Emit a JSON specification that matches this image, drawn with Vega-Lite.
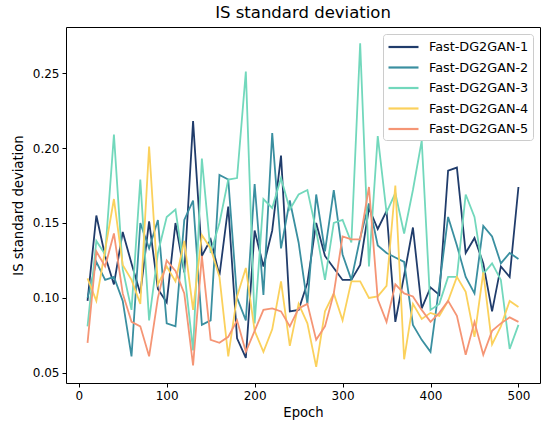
{
  "$schema": "https://vega.github.io/schema/vega-lite/v6.json",
  "width": 474,
  "height": 356,
  "autosize": {"type": "none"},
  "padding": {"left": 66, "top": 27, "right": 10, "bottom": 47},
  "title": {"text": "IS standard deviation", "fontSize": 16.5, "fontWeight": "normal", "font": "DejaVu Sans", "color": "black", "offset": 6},
  "config": {
    "view": {"stroke": "black", "strokeWidth": 1},
    "font": "DejaVu Sans",
    "axis": {"grid": false, "domain": false, "tickColor": "black", "tickSize": 4, "labelFontSize": 12, "labelColor": "black", "titleFontSize": 13.2, "titleFontWeight": "normal", "titleColor": "black", "labelPadding": 3}
  },
  "datasets": {
    "is_std": [
      {"epoch": 10, "model": "Fast-DG2GAN-1", "value": 0.098}, {"epoch": 20, "model": "Fast-DG2GAN-1", "value": 0.155}, {"epoch": 30, "model": "Fast-DG2GAN-1", "value": 0.128}, {"epoch": 40, "model": "Fast-DG2GAN-1", "value": 0.109}, {"epoch": 50, "model": "Fast-DG2GAN-1", "value": 0.144},
      {"epoch": 60, "model": "Fast-DG2GAN-1", "value": 0.123}, {"epoch": 70, "model": "Fast-DG2GAN-1", "value": 0.103}, {"epoch": 80, "model": "Fast-DG2GAN-1", "value": 0.151}, {"epoch": 90, "model": "Fast-DG2GAN-1", "value": 0.106}, {"epoch": 100, "model": "Fast-DG2GAN-1", "value": 0.097},
      {"epoch": 110, "model": "Fast-DG2GAN-1", "value": 0.150}, {"epoch": 120, "model": "Fast-DG2GAN-1", "value": 0.117}, {"epoch": 130, "model": "Fast-DG2GAN-1", "value": 0.218}, {"epoch": 140, "model": "Fast-DG2GAN-1", "value": 0.128}, {"epoch": 150, "model": "Fast-DG2GAN-1", "value": 0.139},
      {"epoch": 160, "model": "Fast-DG2GAN-1", "value": 0.115}, {"epoch": 170, "model": "Fast-DG2GAN-1", "value": 0.161}, {"epoch": 180, "model": "Fast-DG2GAN-1", "value": 0.073}, {"epoch": 190, "model": "Fast-DG2GAN-1", "value": 0.060}, {"epoch": 200, "model": "Fast-DG2GAN-1", "value": 0.145},
      {"epoch": 210, "model": "Fast-DG2GAN-1", "value": 0.121}, {"epoch": 220, "model": "Fast-DG2GAN-1", "value": 0.145}, {"epoch": 230, "model": "Fast-DG2GAN-1", "value": 0.195}, {"epoch": 240, "model": "Fast-DG2GAN-1", "value": 0.091}, {"epoch": 250, "model": "Fast-DG2GAN-1", "value": 0.092},
      {"epoch": 260, "model": "Fast-DG2GAN-1", "value": 0.110}, {"epoch": 270, "model": "Fast-DG2GAN-1", "value": 0.150}, {"epoch": 280, "model": "Fast-DG2GAN-1", "value": 0.128}, {"epoch": 290, "model": "Fast-DG2GAN-1", "value": 0.120}, {"epoch": 300, "model": "Fast-DG2GAN-1", "value": 0.112},
      {"epoch": 310, "model": "Fast-DG2GAN-1", "value": 0.112}, {"epoch": 320, "model": "Fast-DG2GAN-1", "value": 0.122}, {"epoch": 330, "model": "Fast-DG2GAN-1", "value": 0.160}, {"epoch": 340, "model": "Fast-DG2GAN-1", "value": 0.146}, {"epoch": 350, "model": "Fast-DG2GAN-1", "value": 0.158},
      {"epoch": 360, "model": "Fast-DG2GAN-1", "value": 0.084}, {"epoch": 370, "model": "Fast-DG2GAN-1", "value": 0.115}, {"epoch": 380, "model": "Fast-DG2GAN-1", "value": 0.147}, {"epoch": 390, "model": "Fast-DG2GAN-1", "value": 0.093}, {"epoch": 400, "model": "Fast-DG2GAN-1", "value": 0.107},
      {"epoch": 410, "model": "Fast-DG2GAN-1", "value": 0.102}, {"epoch": 420, "model": "Fast-DG2GAN-1", "value": 0.185}, {"epoch": 430, "model": "Fast-DG2GAN-1", "value": 0.187}, {"epoch": 440, "model": "Fast-DG2GAN-1", "value": 0.130}, {"epoch": 450, "model": "Fast-DG2GAN-1", "value": 0.140},
      {"epoch": 460, "model": "Fast-DG2GAN-1", "value": 0.123}, {"epoch": 470, "model": "Fast-DG2GAN-1", "value": 0.091}, {"epoch": 480, "model": "Fast-DG2GAN-1", "value": 0.121}, {"epoch": 490, "model": "Fast-DG2GAN-1", "value": 0.114}, {"epoch": 500, "model": "Fast-DG2GAN-1", "value": 0.174},

      {"epoch": 10, "model": "Fast-DG2GAN-2", "value": 0.100}, {"epoch": 20, "model": "Fast-DG2GAN-2", "value": 0.124}, {"epoch": 30, "model": "Fast-DG2GAN-2", "value": 0.112}, {"epoch": 40, "model": "Fast-DG2GAN-2", "value": 0.114}, {"epoch": 50, "model": "Fast-DG2GAN-2", "value": 0.098},
      {"epoch": 60, "model": "Fast-DG2GAN-2", "value": 0.061}, {"epoch": 70, "model": "Fast-DG2GAN-2", "value": 0.150}, {"epoch": 80, "model": "Fast-DG2GAN-2", "value": 0.133}, {"epoch": 90, "model": "Fast-DG2GAN-2", "value": 0.152}, {"epoch": 100, "model": "Fast-DG2GAN-2", "value": 0.083},
      {"epoch": 110, "model": "Fast-DG2GAN-2", "value": 0.081}, {"epoch": 120, "model": "Fast-DG2GAN-2", "value": 0.152}, {"epoch": 130, "model": "Fast-DG2GAN-2", "value": 0.165}, {"epoch": 140, "model": "Fast-DG2GAN-2", "value": 0.082}, {"epoch": 150, "model": "Fast-DG2GAN-2", "value": 0.085},
      {"epoch": 160, "model": "Fast-DG2GAN-2", "value": 0.182}, {"epoch": 170, "model": "Fast-DG2GAN-2", "value": 0.179}, {"epoch": 180, "model": "Fast-DG2GAN-2", "value": 0.100}, {"epoch": 190, "model": "Fast-DG2GAN-2", "value": 0.085}, {"epoch": 200, "model": "Fast-DG2GAN-2", "value": 0.176},
      {"epoch": 210, "model": "Fast-DG2GAN-2", "value": 0.102}, {"epoch": 220, "model": "Fast-DG2GAN-2", "value": 0.210}, {"epoch": 230, "model": "Fast-DG2GAN-2", "value": 0.133}, {"epoch": 240, "model": "Fast-DG2GAN-2", "value": 0.165}, {"epoch": 250, "model": "Fast-DG2GAN-2", "value": 0.137},
      {"epoch": 260, "model": "Fast-DG2GAN-2", "value": 0.096}, {"epoch": 270, "model": "Fast-DG2GAN-2", "value": 0.169}, {"epoch": 280, "model": "Fast-DG2GAN-2", "value": 0.131}, {"epoch": 290, "model": "Fast-DG2GAN-2", "value": 0.172}, {"epoch": 300, "model": "Fast-DG2GAN-2", "value": 0.129},
      {"epoch": 310, "model": "Fast-DG2GAN-2", "value": 0.112}, {"epoch": 320, "model": "Fast-DG2GAN-2", "value": 0.140}, {"epoch": 330, "model": "Fast-DG2GAN-2", "value": 0.163}, {"epoch": 340, "model": "Fast-DG2GAN-2", "value": 0.135}, {"epoch": 350, "model": "Fast-DG2GAN-2", "value": 0.130},
      {"epoch": 360, "model": "Fast-DG2GAN-2", "value": 0.127}, {"epoch": 370, "model": "Fast-DG2GAN-2", "value": 0.124}, {"epoch": 380, "model": "Fast-DG2GAN-2", "value": 0.082}, {"epoch": 390, "model": "Fast-DG2GAN-2", "value": 0.072}, {"epoch": 400, "model": "Fast-DG2GAN-2", "value": 0.064},
      {"epoch": 410, "model": "Fast-DG2GAN-2", "value": 0.108}, {"epoch": 420, "model": "Fast-DG2GAN-2", "value": 0.154}, {"epoch": 430, "model": "Fast-DG2GAN-2", "value": 0.135}, {"epoch": 440, "model": "Fast-DG2GAN-2", "value": 0.114}, {"epoch": 450, "model": "Fast-DG2GAN-2", "value": 0.103},
      {"epoch": 460, "model": "Fast-DG2GAN-2", "value": 0.148}, {"epoch": 470, "model": "Fast-DG2GAN-2", "value": 0.141}, {"epoch": 480, "model": "Fast-DG2GAN-2", "value": 0.123}, {"epoch": 490, "model": "Fast-DG2GAN-2", "value": 0.130}, {"epoch": 500, "model": "Fast-DG2GAN-2", "value": 0.126},

      {"epoch": 10, "model": "Fast-DG2GAN-3", "value": 0.081}, {"epoch": 20, "model": "Fast-DG2GAN-3", "value": 0.138}, {"epoch": 30, "model": "Fast-DG2GAN-3", "value": 0.129}, {"epoch": 40, "model": "Fast-DG2GAN-3", "value": 0.209}, {"epoch": 50, "model": "Fast-DG2GAN-3", "value": 0.119},
      {"epoch": 60, "model": "Fast-DG2GAN-3", "value": 0.092}, {"epoch": 70, "model": "Fast-DG2GAN-3", "value": 0.179}, {"epoch": 80, "model": "Fast-DG2GAN-3", "value": 0.085}, {"epoch": 90, "model": "Fast-DG2GAN-3", "value": 0.130}, {"epoch": 100, "model": "Fast-DG2GAN-3", "value": 0.154},
      {"epoch": 110, "model": "Fast-DG2GAN-3", "value": 0.159}, {"epoch": 120, "model": "Fast-DG2GAN-3", "value": 0.118}, {"epoch": 130, "model": "Fast-DG2GAN-3", "value": 0.065}, {"epoch": 140, "model": "Fast-DG2GAN-3", "value": 0.193}, {"epoch": 150, "model": "Fast-DG2GAN-3", "value": 0.130},
      {"epoch": 160, "model": "Fast-DG2GAN-3", "value": 0.150}, {"epoch": 170, "model": "Fast-DG2GAN-3", "value": 0.179}, {"epoch": 180, "model": "Fast-DG2GAN-3", "value": 0.180}, {"epoch": 190, "model": "Fast-DG2GAN-3", "value": 0.251}, {"epoch": 200, "model": "Fast-DG2GAN-3", "value": 0.083},
      {"epoch": 210, "model": "Fast-DG2GAN-3", "value": 0.166}, {"epoch": 220, "model": "Fast-DG2GAN-3", "value": 0.160}, {"epoch": 230, "model": "Fast-DG2GAN-3", "value": 0.180}, {"epoch": 240, "model": "Fast-DG2GAN-3", "value": 0.159}, {"epoch": 250, "model": "Fast-DG2GAN-3", "value": 0.169},
      {"epoch": 260, "model": "Fast-DG2GAN-3", "value": 0.172}, {"epoch": 270, "model": "Fast-DG2GAN-3", "value": 0.145}, {"epoch": 280, "model": "Fast-DG2GAN-3", "value": 0.112}, {"epoch": 290, "model": "Fast-DG2GAN-3", "value": 0.150}, {"epoch": 300, "model": "Fast-DG2GAN-3", "value": 0.152},
      {"epoch": 310, "model": "Fast-DG2GAN-3", "value": 0.137}, {"epoch": 320, "model": "Fast-DG2GAN-3", "value": 0.270}, {"epoch": 330, "model": "Fast-DG2GAN-3", "value": 0.121}, {"epoch": 340, "model": "Fast-DG2GAN-3", "value": 0.208}, {"epoch": 350, "model": "Fast-DG2GAN-3", "value": 0.157},
      {"epoch": 360, "model": "Fast-DG2GAN-3", "value": 0.170}, {"epoch": 370, "model": "Fast-DG2GAN-3", "value": 0.143}, {"epoch": 380, "model": "Fast-DG2GAN-3", "value": 0.172}, {"epoch": 390, "model": "Fast-DG2GAN-3", "value": 0.205}, {"epoch": 400, "model": "Fast-DG2GAN-3", "value": 0.092},
      {"epoch": 410, "model": "Fast-DG2GAN-3", "value": 0.096}, {"epoch": 420, "model": "Fast-DG2GAN-3", "value": 0.114}, {"epoch": 430, "model": "Fast-DG2GAN-3", "value": 0.114}, {"epoch": 440, "model": "Fast-DG2GAN-3", "value": 0.169}, {"epoch": 450, "model": "Fast-DG2GAN-3", "value": 0.154},
      {"epoch": 460, "model": "Fast-DG2GAN-3", "value": 0.116}, {"epoch": 470, "model": "Fast-DG2GAN-3", "value": 0.123}, {"epoch": 480, "model": "Fast-DG2GAN-3", "value": 0.112}, {"epoch": 490, "model": "Fast-DG2GAN-3", "value": 0.066}, {"epoch": 500, "model": "Fast-DG2GAN-3", "value": 0.082},

      {"epoch": 10, "model": "Fast-DG2GAN-4", "value": 0.113}, {"epoch": 20, "model": "Fast-DG2GAN-4", "value": 0.098}, {"epoch": 30, "model": "Fast-DG2GAN-4", "value": 0.132}, {"epoch": 40, "model": "Fast-DG2GAN-4", "value": 0.166}, {"epoch": 50, "model": "Fast-DG2GAN-4", "value": 0.122},
      {"epoch": 60, "model": "Fast-DG2GAN-4", "value": 0.112}, {"epoch": 70, "model": "Fast-DG2GAN-4", "value": 0.096}, {"epoch": 80, "model": "Fast-DG2GAN-4", "value": 0.201}, {"epoch": 90, "model": "Fast-DG2GAN-4", "value": 0.109}, {"epoch": 100, "model": "Fast-DG2GAN-4", "value": 0.121},
      {"epoch": 110, "model": "Fast-DG2GAN-4", "value": 0.111}, {"epoch": 120, "model": "Fast-DG2GAN-4", "value": 0.138}, {"epoch": 130, "model": "Fast-DG2GAN-4", "value": 0.092}, {"epoch": 140, "model": "Fast-DG2GAN-4", "value": 0.142}, {"epoch": 150, "model": "Fast-DG2GAN-4", "value": 0.133},
      {"epoch": 160, "model": "Fast-DG2GAN-4", "value": 0.114}, {"epoch": 170, "model": "Fast-DG2GAN-4", "value": 0.061}, {"epoch": 180, "model": "Fast-DG2GAN-4", "value": 0.101}, {"epoch": 190, "model": "Fast-DG2GAN-4", "value": 0.120}, {"epoch": 200, "model": "Fast-DG2GAN-4", "value": 0.078},
      {"epoch": 210, "model": "Fast-DG2GAN-4", "value": 0.064}, {"epoch": 220, "model": "Fast-DG2GAN-4", "value": 0.079}, {"epoch": 230, "model": "Fast-DG2GAN-4", "value": 0.111}, {"epoch": 240, "model": "Fast-DG2GAN-4", "value": 0.068}, {"epoch": 250, "model": "Fast-DG2GAN-4", "value": 0.096},
      {"epoch": 260, "model": "Fast-DG2GAN-4", "value": 0.083}, {"epoch": 270, "model": "Fast-DG2GAN-4", "value": 0.054}, {"epoch": 280, "model": "Fast-DG2GAN-4", "value": 0.091}, {"epoch": 290, "model": "Fast-DG2GAN-4", "value": 0.103}, {"epoch": 300, "model": "Fast-DG2GAN-4", "value": 0.085},
      {"epoch": 310, "model": "Fast-DG2GAN-4", "value": 0.111}, {"epoch": 320, "model": "Fast-DG2GAN-4", "value": 0.111}, {"epoch": 330, "model": "Fast-DG2GAN-4", "value": 0.100}, {"epoch": 340, "model": "Fast-DG2GAN-4", "value": 0.101}, {"epoch": 350, "model": "Fast-DG2GAN-4", "value": 0.108},
      {"epoch": 360, "model": "Fast-DG2GAN-4", "value": 0.175}, {"epoch": 370, "model": "Fast-DG2GAN-4", "value": 0.059}, {"epoch": 380, "model": "Fast-DG2GAN-4", "value": 0.096}, {"epoch": 390, "model": "Fast-DG2GAN-4", "value": 0.086}, {"epoch": 400, "model": "Fast-DG2GAN-4", "value": 0.090},
      {"epoch": 410, "model": "Fast-DG2GAN-4", "value": 0.088}, {"epoch": 420, "model": "Fast-DG2GAN-4", "value": 0.098}, {"epoch": 430, "model": "Fast-DG2GAN-4", "value": 0.114}, {"epoch": 440, "model": "Fast-DG2GAN-4", "value": 0.104}, {"epoch": 450, "model": "Fast-DG2GAN-4", "value": 0.074},
      {"epoch": 460, "model": "Fast-DG2GAN-4", "value": 0.117}, {"epoch": 470, "model": "Fast-DG2GAN-4", "value": 0.069}, {"epoch": 480, "model": "Fast-DG2GAN-4", "value": 0.081}, {"epoch": 490, "model": "Fast-DG2GAN-4", "value": 0.098}, {"epoch": 500, "model": "Fast-DG2GAN-4", "value": 0.094},

      {"epoch": 10, "model": "Fast-DG2GAN-5", "value": 0.070}, {"epoch": 20, "model": "Fast-DG2GAN-5", "value": 0.131}, {"epoch": 30, "model": "Fast-DG2GAN-5", "value": 0.121}, {"epoch": 40, "model": "Fast-DG2GAN-5", "value": 0.143}, {"epoch": 50, "model": "Fast-DG2GAN-5", "value": 0.103},
      {"epoch": 60, "model": "Fast-DG2GAN-5", "value": 0.084}, {"epoch": 70, "model": "Fast-DG2GAN-5", "value": 0.081}, {"epoch": 80, "model": "Fast-DG2GAN-5", "value": 0.061}, {"epoch": 90, "model": "Fast-DG2GAN-5", "value": 0.100}, {"epoch": 100, "model": "Fast-DG2GAN-5", "value": 0.125},
      {"epoch": 110, "model": "Fast-DG2GAN-5", "value": 0.118}, {"epoch": 120, "model": "Fast-DG2GAN-5", "value": 0.103}, {"epoch": 130, "model": "Fast-DG2GAN-5", "value": 0.055}, {"epoch": 140, "model": "Fast-DG2GAN-5", "value": 0.128}, {"epoch": 150, "model": "Fast-DG2GAN-5", "value": 0.072},
      {"epoch": 160, "model": "Fast-DG2GAN-5", "value": 0.070}, {"epoch": 170, "model": "Fast-DG2GAN-5", "value": 0.074}, {"epoch": 180, "model": "Fast-DG2GAN-5", "value": 0.085}, {"epoch": 190, "model": "Fast-DG2GAN-5", "value": 0.064}, {"epoch": 200, "model": "Fast-DG2GAN-5", "value": 0.078},
      {"epoch": 210, "model": "Fast-DG2GAN-5", "value": 0.092}, {"epoch": 220, "model": "Fast-DG2GAN-5", "value": 0.093}, {"epoch": 230, "model": "Fast-DG2GAN-5", "value": 0.091}, {"epoch": 240, "model": "Fast-DG2GAN-5", "value": 0.081}, {"epoch": 250, "model": "Fast-DG2GAN-5", "value": 0.093},
      {"epoch": 260, "model": "Fast-DG2GAN-5", "value": 0.096}, {"epoch": 270, "model": "Fast-DG2GAN-5", "value": 0.072}, {"epoch": 280, "model": "Fast-DG2GAN-5", "value": 0.081}, {"epoch": 290, "model": "Fast-DG2GAN-5", "value": 0.103}, {"epoch": 300, "model": "Fast-DG2GAN-5", "value": 0.141},
      {"epoch": 310, "model": "Fast-DG2GAN-5", "value": 0.139}, {"epoch": 320, "model": "Fast-DG2GAN-5", "value": 0.139}, {"epoch": 330, "model": "Fast-DG2GAN-5", "value": 0.174}, {"epoch": 340, "model": "Fast-DG2GAN-5", "value": 0.099}, {"epoch": 350, "model": "Fast-DG2GAN-5", "value": 0.084},
      {"epoch": 360, "model": "Fast-DG2GAN-5", "value": 0.109}, {"epoch": 370, "model": "Fast-DG2GAN-5", "value": 0.103}, {"epoch": 380, "model": "Fast-DG2GAN-5", "value": 0.101}, {"epoch": 390, "model": "Fast-DG2GAN-5", "value": 0.092}, {"epoch": 400, "model": "Fast-DG2GAN-5", "value": 0.084},
      {"epoch": 410, "model": "Fast-DG2GAN-5", "value": 0.090}, {"epoch": 420, "model": "Fast-DG2GAN-5", "value": 0.098}, {"epoch": 430, "model": "Fast-DG2GAN-5", "value": 0.088}, {"epoch": 440, "model": "Fast-DG2GAN-5", "value": 0.062}, {"epoch": 450, "model": "Fast-DG2GAN-5", "value": 0.084},
      {"epoch": 460, "model": "Fast-DG2GAN-5", "value": 0.062}, {"epoch": 470, "model": "Fast-DG2GAN-5", "value": 0.078}, {"epoch": 480, "model": "Fast-DG2GAN-5", "value": 0.083}, {"epoch": 490, "model": "Fast-DG2GAN-5", "value": 0.087}, {"epoch": 500, "model": "Fast-DG2GAN-5", "value": 0.084}
    ]
  },
  "data": {"name": "is_std"},
  "mark": {"type": "line", "strokeWidth": 1.8, "clip": true},
  "encoding": {
    "x": {
      "field": "epoch",
      "type": "quantitative",
      "scale": {"domain": [-14.5, 524.5], "nice": false, "zero": false},
      "axis": {"values": [0, 100, 200, 300, 400, 500], "title": "Epoch", "titlePadding": 5}
    },
    "y": {
      "field": "value",
      "type": "quantitative",
      "scale": {"domain": [0.0432, 0.2808], "nice": false, "zero": false},
      "axis": {"values": [0.05, 0.1, 0.15, 0.2, 0.25], "format": ".2f", "title": "IS standard deviation", "titlePadding": 7}
    },
    "color": {
      "field": "model",
      "type": "nominal",
      "scale": {
        "domain": ["Fast-DG2GAN-1", "Fast-DG2GAN-2", "Fast-DG2GAN-3", "Fast-DG2GAN-4", "Fast-DG2GAN-5"],
        "range": ["#203c6b", "#3a8fa0", "#72d8bc", "#fbd15c", "#f59575"]
      },
      "legend": {
        "title": null,
        "orient": "top-right",
        "offset": 7,
        "fillColor": "white",
        "strokeColor": "#cccccc",
        "cornerRadius": 3,
        "padding": 4,
        "symbolType": "M-1,0H3",
        "symbolStrokeWidth": 2.2,
        "symbolSize": 225,
        "labelFontSize": 12.8,
        "labelColor": "black",
        "rowPadding": 4.5,
        "labelOffset": 24
      }
    }
  }
}
